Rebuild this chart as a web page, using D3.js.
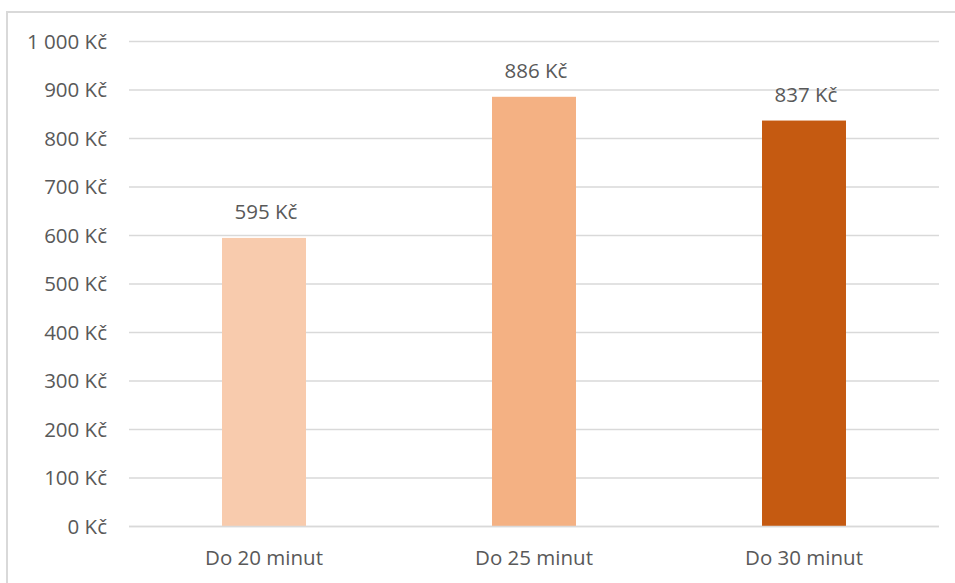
<!DOCTYPE html>
<html>
<head>
<meta charset="utf-8">
<script src="https://cdn.jsdelivr.net/npm/d3@7"></script>
<style>
  html, body { margin: 0; padding: 0; background: #fff; }
  svg { display: block; }
  text { font-family: "Open Sans", "Noto Sans", sans-serif; fill: #595959; }
</style>
</head>
<body>
<svg id="chart" width="955" height="583"></svg>
<script>
// Average price by delivery time
const categories = ["Do 20 minut", "Do 25 minut", "Do 30 minut"];
const prices = [595, 886, 837];
const barColors = ["#F8CBAD", "#F4B183", "#C55A11"];
const yTicks = [0, 100, 200, 300, 400, 500, 600, 700, 800, 900, 1000];

const fmtKc = v => d3.format(",")(v).replace(/,/g, "\u00a0") + " Kč";
const FONT_SIZE = 20.5;

const svg = d3.select("#chart");
const W = 955, H = 583;

// chart frame (clipped by the page edge on the right and bottom)
svg.append("rect")
  .attr("x", 7).attr("y", 12)
  .attr("width", W + 10).attr("height", H + 10)
  .attr("fill", "#fff")
  .attr("stroke", "#d9d9d9").attr("stroke-width", 2);

const plot = { left: 129, right: 939, top: 41.5, bottom: 526.5 };

const x = d3.scaleBand()
  .domain(categories)
  .range([plot.left, plot.right])
  .paddingInner(0.689)
  .paddingOuter(0.3445);

const y = d3.scaleLinear()
  .domain([0, 1000])
  .range([plot.bottom, plot.top]);

// horizontal gridlines
svg.append("g")
  .selectAll("line")
  .data(yTicks)
  .join("line")
  .attr("x1", plot.left).attr("x2", plot.right)
  .attr("y1", d => y(d)).attr("y2", d => y(d))
  .attr("stroke", "#d9d9d9").attr("stroke-width", 1.5);

// y axis labels
const yAxis = d3.axisLeft(y).tickValues(yTicks).tickFormat(fmtKc).tickSize(0).tickPadding(0);
const gy = svg.append("g").attr("transform", "translate(107,0)").call(yAxis);
gy.select(".domain").remove();
gy.selectAll("text")
  .attr("font-size", FONT_SIZE)
  .attr("font-family", "'Open Sans', sans-serif")
  .attr("fill", "#595959");

// bars
svg.append("g")
  .selectAll("rect")
  .data(prices)
  .join("rect")
  .attr("x", (d, i) => x(categories[i]))
  .attr("width", x.bandwidth())
  .attr("y", d => y(d))
  .attr("height", d => y(0) - y(d))
  .attr("fill", (d, i) => barColors[i]);

// value labels above bars
svg.append("g")
  .selectAll("text")
  .data(prices)
  .join("text")
  .attr("x", (d, i) => x(categories[i]) + x.bandwidth() / 2 + 2)
  .attr("y", d => y(d) - 19)
  .attr("text-anchor", "middle")
  .attr("font-size", FONT_SIZE)
  .text(d => fmtKc(d));

// baseline
svg.append("line")
  .attr("x1", plot.left).attr("x2", plot.right)
  .attr("y1", y(0)).attr("y2", y(0))
  .attr("stroke", "#d9d9d9").attr("stroke-width", 1.5);

// x axis labels
const xAxis = d3.axisBottom(x).tickSize(0).tickPadding(0);
const gx = svg.append("g").attr("transform", `translate(0,${plot.bottom})`).call(xAxis);
gx.select(".domain").remove();
gx.selectAll("text")
  .attr("dy", 0)
  .attr("y", 38.5)
  .attr("font-size", FONT_SIZE)
  .attr("font-family", "'Open Sans', sans-serif")
  .attr("fill", "#595959");
</script>
</body>
</html>
